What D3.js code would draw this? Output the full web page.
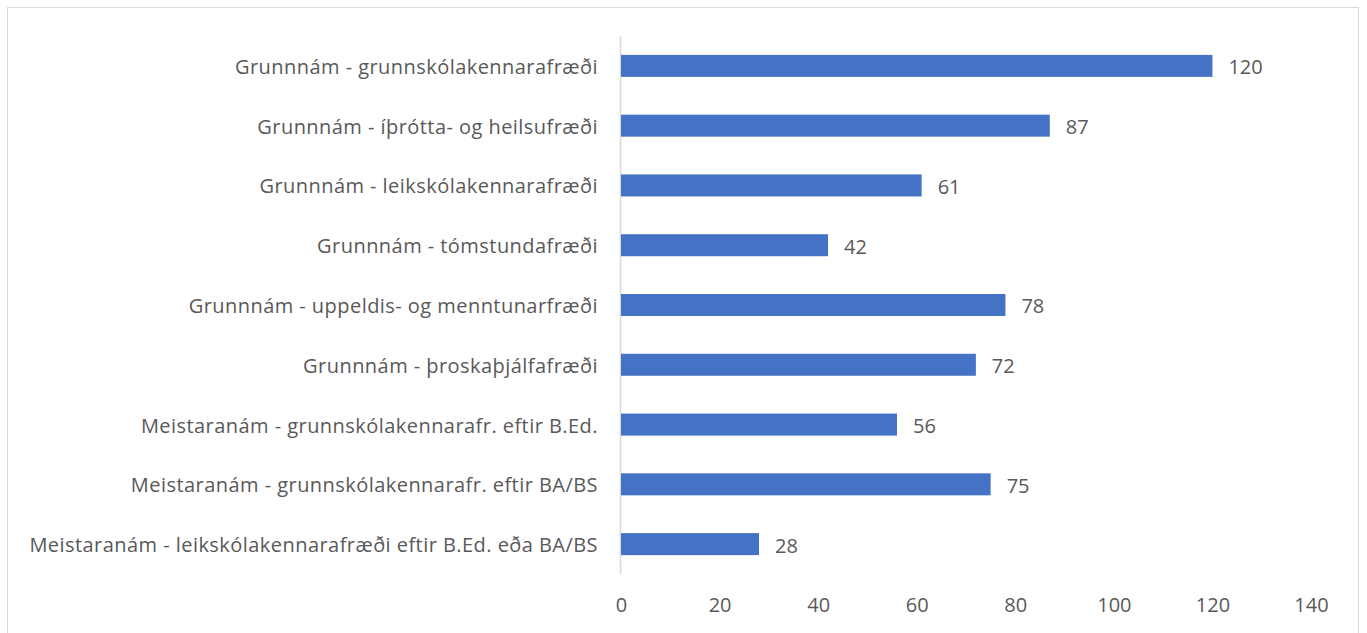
<!DOCTYPE html>
<html><head><meta charset="utf-8">
<script src="https://cdn.jsdelivr.net/npm/d3@7"></script>
<style>body{margin:0;background:#fff;} text{font-family:"Open Sans",sans-serif;fill:#595959;}</style>
</head><body><svg id="c" width="1367" height="633"></svg>
<script>
const categories = [
  "Grunnnám - grunnskólakennarafræði",
  "Grunnnám - íþrótta- og heilsufræði",
  "Grunnnám - leikskólakennarafræði",
  "Grunnnám - tómstundafræði",
  "Grunnnám - uppeldis- og menntunarfræði",
  "Grunnnám - þroskaþjálfafræði",
  "Meistaranám - grunnskólakennarafr. eftir B.Ed.",
  "Meistaranám - grunnskólakennarafr. eftir BA/BS",
  "Meistaranám - leikskólakennarafræði eftir B.Ed. eða BA/BS"
];
const values = [120, 87, 61, 42, 78, 72, 56, 75, 28];
const xTicks = [0, 20, 40, 60, 80, 100, 120, 140];

const svg = d3.select("#c");
svg.append("rect").attr("x",7.5).attr("y",7.5).attr("width",1351).attr("height",640)
  .attr("fill","none").attr("stroke","#d9d9d9");

const x = d3.scaleLinear().domain([0,140]).range([621,1311]);
const y = d3.scaleBand().domain(categories).range([36,574]).paddingInner(0.632).paddingOuter(0.316);

svg.append("line").attr("x1",620.5).attr("x2",620.5).attr("y1",36).attr("y2",574)
  .attr("stroke","#d9d9d9").attr("stroke-width",1.5);

svg.selectAll("rect.bar").data(values).enter().append("rect").attr("class","bar")
  .attr("x",x(0)).attr("y",(d,i)=>y(categories[i]))
  .attr("width",d=>x(d)-x(0)).attr("height",y.bandwidth()).attr("fill","#4472C4");

svg.selectAll("text.val").data(values).enter().append("text").attr("class","val")
  .attr("x",d=>x(d)+16).attr("y",(d,i)=>y(categories[i])+y.bandwidth()/2)
  .attr("dy","0.42em").attr("font-size",20).text(d=>d);

svg.selectAll("text.cat").data(categories).enter().append("text").attr("class","cat")
  .attr("x",598).attr("y",d=>y(d)+y.bandwidth()/2).attr("dy","0.4em")
  .attr("text-anchor","end").attr("font-size",20).attr("letter-spacing","0.45px").text(d=>d);

const ax = svg.append("g").attr("transform","translate(0,574)")
  .call(d3.axisBottom(x).tickValues(xTicks).tickSize(0).tickPadding(24));
ax.select(".domain").remove();
ax.selectAll("text").attr("font-size",20).style("font-family","'Open Sans',sans-serif").attr("fill","#595959");
</script></body></html>
